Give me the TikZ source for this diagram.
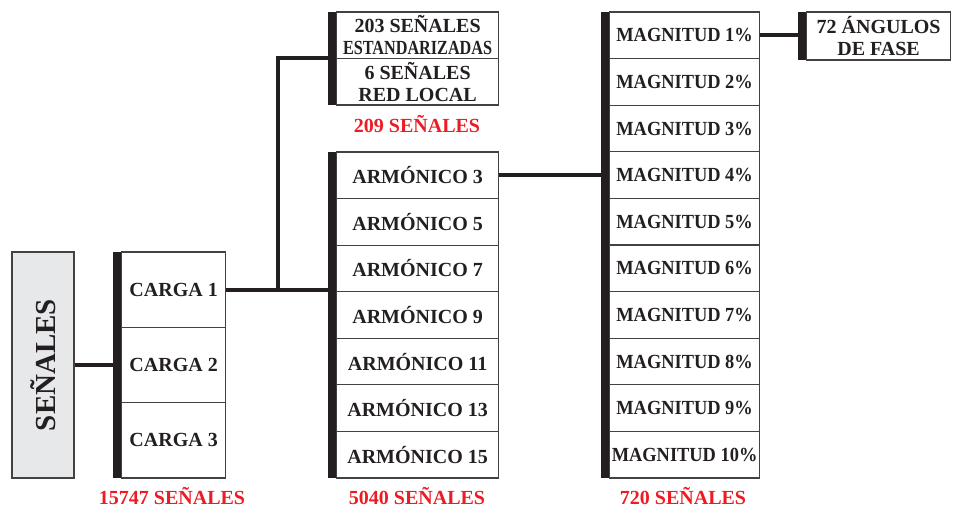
\documentclass[tikz,border=0pt]{standalone}
\usepackage{graphicx}
\usepackage{fontspec}
\setmainfont{Liberation Serif}
\definecolor{senred}{RGB}{237,28,36}
\definecolor{inkdark}{RGB}{35,31,32}
\definecolor{boxgray}{RGB}{231,232,233}
\tikzset{
  cell/.style={draw=inkdark!85, line width=0.6pt, fill=white, inner sep=0pt, align=center,
    font=\fontsize{10}{11}\selectfont\bfseries, text=inkdark},
  bar/.style={fill=inkdark, inner sep=0pt, minimum width=3.7pt, anchor=east},
  link/.style={draw=inkdark, line width=2pt},
  total/.style={text=senred, font=\fontsize{10}{11}\selectfont\bfseries},
}
\begin{document}
\begin{tikzpicture}[x=0.5pt,y=-0.5pt]
  \useasboundingbox (0,0) rectangle (957,508);
  % signals
  \node[cell, fill=boxgray, minimum width=31pt, minimum height=113pt] (senales) at (43,365)
    {\rotatebox{90}{\fontsize{14.5}{15}\selectfont SEÑALES}};
  % loads
  \node[bar, minimum height=113pt] (cargabar) at (121,365) {};
  \foreach \i in {1,2,3}
    \node[cell, minimum width=52pt, minimum height=37.67pt, anchor=west] (carga\i) at (121,214.33+75.33*\i) {CARGA \i};
  \node[total] (n15747) at (172,496) {15747 SEÑALES};
  % standard and local network signals
  \node[bar, minimum height=46.5pt] (topbar) at (336,58.5) {};
  \node[cell, minimum width=81pt, minimum height=23.25pt, anchor=west] (std) at (336,35.25)
    {203 SEÑALES\\\scalebox{0.81}[1]{ESTANDARIZADAS}};
  \node[cell, minimum width=81pt, minimum height=23.25pt, anchor=west] (lan) at (336,81.75)
    {6 SEÑALES\\RED LOCAL};
  \node[total] (n209) at (417,124) {209 SEÑALES};
  % harmonics
  \node[bar, minimum height=163pt] (armbar) at (336,315) {};
  \foreach \h [count=\k] in {3,5,...,15}
    \node[cell, minimum width=81pt, minimum height=23.28pt, anchor=west] (arm\h) at (336,128.7+46.57*\k) {ARMÓNICO \h};
  \node[total] (n5040) at (417,496) {5040 SEÑALES};
  % magnitudes
  \node[bar, minimum height=233pt] (magbar) at (609,245) {};
  \foreach \m in {1,...,10}
    \node[cell, minimum width=75pt, minimum height=23.3pt, anchor=west] (mag\m) at (609,-11.3+46.6*\m)
      {\scalebox{0.92}[1]{MAGNITUD \m\%}};
  \node[total] (n720) at (683,496) {720 SEÑALES};
  % phase angles
  \node[bar, minimum height=24pt] (angbar) at (806,36) {};
  \node[cell, minimum width=72pt, minimum height=24pt, anchor=west] (ang) at (806,36) {72 ÁNGULOS\\DE FASE};
  % links
  \path (carga1.east) ++(52,0) coordinate (fork);
  \draw[link] (senales.east) -- (senales.east -| cargabar.west);
  \draw[link] (carga1.east) -- (carga1.east -| armbar.west);
  \draw[link] (fork) |- (topbar.west);
  \draw[link] (arm3.east) -- (arm3.east -| magbar.west);
  \draw[link] (mag1.east) -- (mag1.east -| angbar.west);
\end{tikzpicture}
\end{document}
